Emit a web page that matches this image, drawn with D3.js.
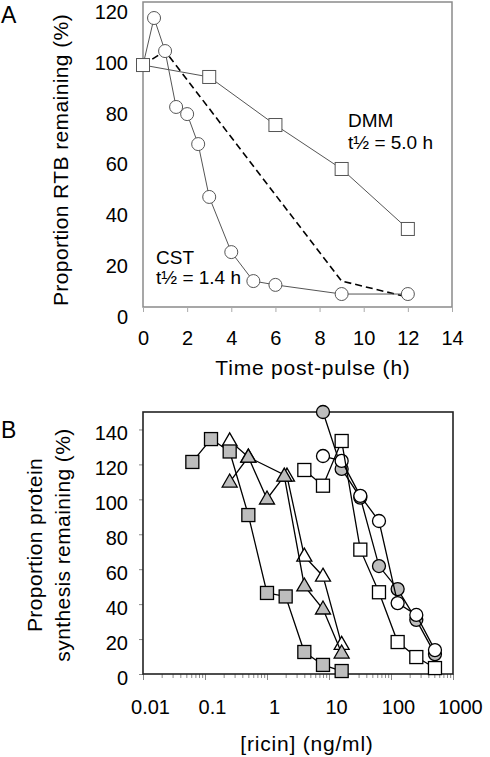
<!DOCTYPE html>
<html><head><meta charset="utf-8">
<script src="https://cdn.jsdelivr.net/npm/d3@7"></script>
<style>
body{margin:0;background:#fff}
text{font-family:Arial,"Liberation Sans",Helvetica,sans-serif;fill:#000}
</style>
</head><body>
<svg id="c" width="490" height="757"></svg>
<script>
// ---------- Panel A data ----------
const aXTicks = [0,2,4,6,8,10,12,14];
const aYTicks = [0,20,40,60,80,100,120];
const cstTime = [0,0.5,1,1.5,2,2.5,3,4,5,6,9,12];
const cstVal  = [95.2,113.7,100.7,78.7,75.9,64.1,43.3,21.6,10.2,8.7,5.1,5.1];
const dmmTime = [0,3,6,9,12];
const dmmVal  = [95.2,90.5,71.6,54.3,30.7];
const fitTime = [0,1,9,12];
const fitVal  = [95.2,100.7,10.2,3.9];

// ---------- Panel B data ----------
const bXTicks = [0.01,0.1,1,10,100,1000];
const bXLabels = ["0.01","0.1","1","10","100","1000"];
const bYTicks = [0,20,40,60,80,100,120,140];
const graySqX = [0.0625,0.125,0.25,0.5,1,2,4,8,16];
const graySqY = [121.4,134.5,127.4,91.0,46.4,44.4,12.6,5.2,1.7];
const grayTriX = [0.25,0.5,1,1.9,4,8,16];
const grayTriY = [109.9,124.2,100.2,113.3,50.4,37.2,12.0];
const whiteTriX = [0.25,0.5,2.1,4,8,16];
const whiteTriY = [133.5,124.2,113.3,67.5,56.0,17.0];
const grayCirX = [8,16,32,64,128,256,512];
const grayCirY = [150,117.4,101,61.8,48.6,31,11.4];
const whiteCirX = [8,16,32,64,128,256,512];
const whiteCirY = [124.8,122,102,87.6,40.6,33.8,13.7];
const whiteSqX = [4,8,16,32,64,128,256,512];
const whiteSqY = [116.8,107.8,133.4,71.2,46.8,18.3,9.7,3.4];

const svg = d3.select("#c");
const zip = (xs, ys) => xs.map((x,i)=>[x, ys[i]]);

// ================= Panel A =================
const ax = d3.scaleLinear().domain([0,14]).range([143,452]);
const ay = d3.scaleLinear().domain([0,120]).range([307,2]);
const gA = svg.append("g");
const aGray = "#8a8a8a";

gA.append("rect").attr("x",ax(0)).attr("y",ay(120))
  .attr("width",ax(14)-ax(0)).attr("height",ay(0)-ay(120))
  .attr("fill","none").attr("stroke",aGray).attr("stroke-width",1.5);

const axA = gA.append("g").attr("transform",`translate(0,${ay(0)})`)
  .call(d3.axisBottom(ax).tickValues(aXTicks).tickSize(5).tickPadding(12).tickFormat(d3.format("d")));
axA.select(".domain").remove();
axA.selectAll("line").attr("stroke","#aaa");
axA.selectAll("text").attr("font-size",20).attr("dy","1.05em");

const ayA = gA.append("g").attr("transform",`translate(${ax(0)},0)`)
  .call(d3.axisLeft(ay).tickValues(aYTicks).tickSize(0).tickPadding(15).tickFormat(d3.format("d")));
ayA.select(".domain").remove();
ayA.selectAll("text").attr("font-size",20).attr("dy","0.82em");

const lineA = d3.line().x(d=>ax(d[0])).y(d=>ay(d[1]));
gA.append("path").datum(zip(fitTime,fitVal)).attr("d",lineA)
  .attr("fill","none").attr("stroke","#000").attr("stroke-width",1.6).attr("stroke-dasharray","7,4");
gA.append("path").datum(zip(dmmTime,dmmVal)).attr("d",lineA)
  .attr("fill","none").attr("stroke","#555").attr("stroke-width",1);
gA.append("path").datum(zip(cstTime,cstVal)).attr("d",lineA)
  .attr("fill","none").attr("stroke","#555").attr("stroke-width",1);

gA.selectAll("circle.cst").data(zip(cstTime,cstVal).slice(1)).join("circle")
  .attr("cx",d=>ax(d[0])).attr("cy",d=>ay(d[1])).attr("r",6.5)
  .attr("fill","#fff").attr("stroke","#555").attr("stroke-width",1);
gA.selectAll("rect.dmm").data(zip(dmmTime,dmmVal)).join("rect")
  .attr("x",d=>ax(d[0])-6.5).attr("y",d=>ay(d[1])-6.5).attr("width",13).attr("height",13)
  .attr("fill","#fff").attr("stroke","#555").attr("stroke-width",1);

gA.append("text").attr("x",348).attr("y",127).attr("font-size",19).text("DMM");
gA.append("text").attr("x",348).attr("y",149).attr("font-size",19).text("t½ = 5.0 h");
gA.append("text").attr("x",156).attr("y",264).attr("font-size",19).text("CST");
gA.append("text").attr("x",156).attr("y",284).attr("font-size",19).text("t½ = 1.4 h");

gA.append("text").attr("transform","translate(68,160) rotate(-90)").attr("text-anchor","middle")
  .attr("font-size",21).attr("letter-spacing",0.4).text("Proportion RTB remaining (%)");
gA.append("text").attr("x",313).attr("y",375).attr("text-anchor","middle")
  .attr("font-size",21).attr("letter-spacing",0.8).text("Time post-pulse (h)");
gA.append("text").attr("x",1).attr("y",23).attr("font-size",23).text("A");

// ================= Panel B =================
const bx = d3.scaleLog().domain([0.01,1000]).range([143,453]);
const by = d3.scaleLinear().domain([0,150]).range([674,412]);
const gB = svg.append("g");

// minor ticks
const minor = [];
for (let e=-2; e<3; e++) for (let m=2; m<10; m++) minor.push(m*Math.pow(10,e));
gB.append("g").attr("transform",`translate(0,${by(0)})`)
  .call(d3.axisBottom(bx).tickValues(minor).tickSize(4).tickFormat(""))
  .call(g=>{g.select(".domain").remove(); g.selectAll("line").attr("stroke","#888");});
const bxA = gB.append("g").attr("transform",`translate(0,${by(0)})`)
  .call(d3.axisBottom(bx).tickValues(bXTicks).tickSize(6).tickPadding(20).tickFormat((d,i)=>bXLabels[i]));
bxA.select(".domain").remove();
bxA.selectAll("line").attr("stroke","#888");
bxA.selectAll("text").attr("font-size",20).attr("dx","0.35em");

const byA = gB.append("g").attr("transform",`translate(${bx(0.01)},0)`)
  .call(d3.axisLeft(by).tickValues(bYTicks).tickSize(4).tickPadding(11).tickFormat(d3.format("d")));
byA.select(".domain").remove();
byA.selectAll("line").attr("stroke","#888");
byA.selectAll("text").attr("font-size",20).attr("dy","0.52em");

gB.append("rect").attr("x",bx(0.01)).attr("y",by(150))
  .attr("width",bx(1000)-bx(0.01)).attr("height",by(0)-by(150))
  .attr("fill","none").attr("stroke","#222").attr("stroke-width",1.6);

const lineB = d3.line().x(d=>bx(d[0])).y(d=>by(d[1]));
const grayFill = "#bdbdbd";
function series(xs, ys, shape, fill){
  const pts = zip(xs, ys);
  gB.append("path").datum(pts).attr("d",lineB).attr("fill","none")
    .attr("stroke","#000").attr("stroke-width",1.3);
  const g = gB.append("g");
  pts.forEach(d=>{
    const cx = bx(d[0]), cy = by(d[1]);
    let el;
    if (shape==="circle") el = g.append("circle").attr("cx",cx).attr("cy",cy).attr("r",6.5);
    else if (shape==="square") el = g.append("rect").attr("x",cx-6.5).attr("y",cy-6.5).attr("width",13).attr("height",13);
    else el = g.append("path").attr("d",`M${cx},${cy-8} L${cx+7.5},${cy+5} L${cx-7.5},${cy+5} Z`);
    el.attr("fill",fill).attr("stroke","#000").attr("stroke-width",1.3);
  });
}
series(whiteTriX, whiteTriY, "tri", "#fff");
series(grayTriX, grayTriY, "tri", grayFill);
series(graySqX, graySqY, "square", grayFill);
series(grayCirX, grayCirY, "circle", grayFill);
series(whiteCirX, whiteCirY, "circle", "#fff");
series(whiteSqX, whiteSqY, "square", "#fff");

gB.append("text").attr("transform","translate(0,545) rotate(-90)").attr("text-anchor","middle")
  .attr("font-size",21).attr("letter-spacing",0.4)
  .call(t=>{
    t.append("tspan").attr("x",0).attr("y",42).text("Proportion protein");
    t.append("tspan").attr("x",0).attr("y",70).text("synthesis remaining (%)");
  });
gB.append("text").attr("x",307).attr("y",751).attr("text-anchor","middle")
  .attr("font-size",21).attr("letter-spacing",0.8).text("[ricin] (ng/ml)");
gB.append("text").attr("x",1).attr("y",438).attr("font-size",23).text("B");
</script>
</body></html>
